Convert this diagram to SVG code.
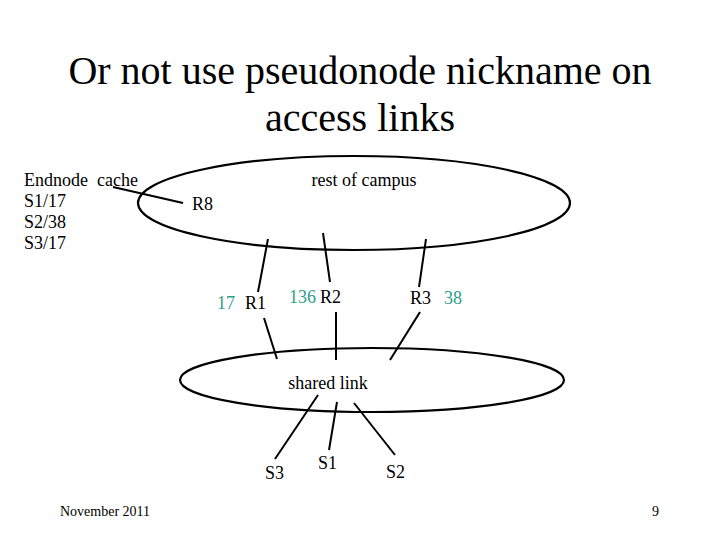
<svg xmlns="http://www.w3.org/2000/svg" width="720" height="540" viewBox="0 0 720 540" font-family="'Liberation Serif', 'Times New Roman', 'DejaVu Serif', serif">
<style>
text{font-family:'Liberation Serif','Times New Roman','DejaVu Serif',serif;fill:#000}
.t{font-size:40px}
.l{font-size:18px}
.f{font-size:14px}
.c{fill:#2E9E8A}
.e{fill:none;stroke:#000;stroke-width:2.2}
.k line{stroke:#000;stroke-width:2}
</style>
<rect width="720" height="540" fill="#fff"/>
<g id="title">
<text class="t" x="360" y="84" text-anchor="middle">Or not use pseudonode nickname on</text>
<text class="t" x="360" y="131" text-anchor="middle">access links</text>
</g>
<g id="cache">
<text class="l" x="24" y="186" xml:space="preserve">Endnode  cache</text>
<text class="l" x="24" y="207">S1/17</text>
<text class="l" x="24" y="228">S2/38</text>
<text class="l" x="24" y="249">S3/17</text>
</g>
<g id="campus">
<ellipse class="e" cx="354" cy="203" rx="216" ry="47"/>
<text class="l" x="364" y="186" text-anchor="middle">rest of campus</text>
</g>
<g id="shared">
<ellipse class="e" cx="372" cy="380" rx="192" ry="32"/>
<text class="l" x="328" y="389" text-anchor="middle">shared link</text>
</g>
<g id="R8"><text class="l" x="192" y="210">R8</text></g>
<g id="R1"><text class="l c" x="217" y="309">17</text><text class="l" x="245" y="309">R1</text></g>
<g id="R2"><text class="l c" x="289" y="303">136</text><text class="l" x="320" y="303">R2</text></g>
<g id="R3"><text class="l" x="410" y="304">R3</text><text class="l c" x="444" y="304">38</text></g>
<g id="S3"><text class="l" x="265" y="479">S3</text></g>
<g id="S1"><text class="l" x="318" y="469">S1</text></g>
<g id="S2"><text class="l" x="386" y="478">S2</text></g>
<g id="connectors" class="k">
<line x1="113" y1="187" x2="183" y2="203"/>
<line x1="268" y1="239" x2="258" y2="292"/>
<line x1="264" y1="318" x2="277" y2="359"/>
<line x1="323" y1="233" x2="330" y2="282"/>
<line x1="336" y1="312" x2="336" y2="360"/>
<line x1="426" y1="239" x2="419" y2="287"/>
<line x1="420" y1="312" x2="390" y2="360"/>
<line x1="318" y1="395" x2="275" y2="459"/>
<line x1="337" y1="402" x2="329" y2="450"/>
<line x1="354" y1="403" x2="395" y2="455"/>
</g>
<g id="footer">
<text class="f" x="60" y="516">November 2011</text>
<text class="f" x="652" y="516">9</text>
</g>
</svg>
